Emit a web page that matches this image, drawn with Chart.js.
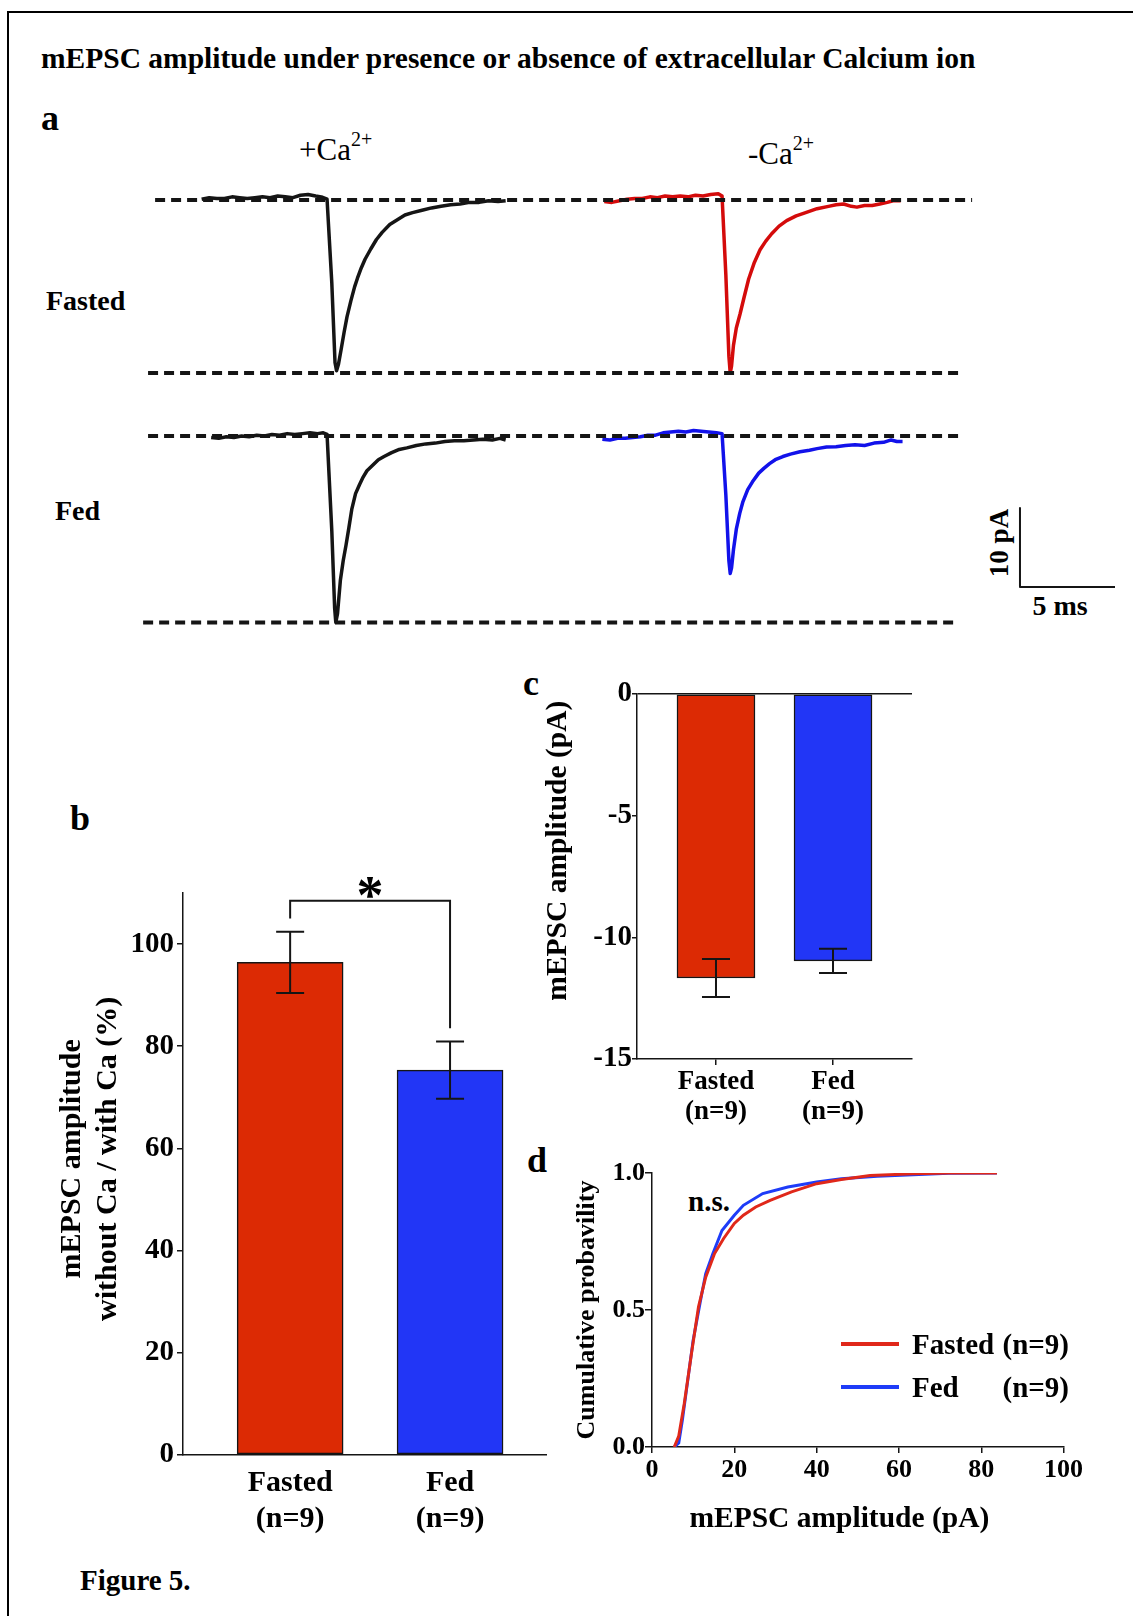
<!DOCTYPE html>
<html>
<head>
<meta charset="utf-8">
<script src="https://cdn.jsdelivr.net/npm/chart.js"></script>
<style>
    body { margin: 0; background: #fff; }
    #page { position: relative; width: 1133px; height: 1616px; overflow: hidden; font-family: 'Liberation Serif', 'Times New Roman', serif; color: #000; }
    #frame { position: absolute; left: 7px; top: 11px; width: 1140px; height: 1620px; border-left: 2px solid #000; border-top: 2px solid #000; }
    .t { position: absolute; white-space: nowrap; line-height: 1; font-weight: bold; }
    canvas { position: absolute; }
</style>
</head>
<body>
<div id="page">
    <div id="frame"></div>

    <div class="t" style="left:41px; top:44px; font-size:29.5px;">mEPSC amplitude under presence or absence of extracellular Calcium ion</div>
    <div class="t" style="left:41px; top:100px; font-size:36px;">a</div>
    <div class="t" style="left:299px; top:129px; font-size:31px; font-weight:normal;">+Ca<sup style="font-size:20px; vertical-align:14px;">2+</sup></div>
    <div class="t" style="left:748px; top:133px; font-size:31px; font-weight:normal;">-Ca<sup style="font-size:20px; vertical-align:14px;">2+</sup></div>
    <div class="t" style="left:46px; top:287px; font-size:28px;">Fasted</div>
    <div class="t" style="left:55px; top:497px; font-size:28px;">Fed</div>
    <div class="t" style="left:999px; top:543px; font-size:27px; transform:translate(-50%,-50%) rotate(-90deg);">10 pA</div>
    <div class="t" style="left:1020px; top:592px; width:80px; text-align:center; font-size:28px;">5 ms</div>

    <div class="t" style="left:70px; top:800px; font-size:36px;">b</div>
    <div class="t" style="left:523px; top:665px; font-size:36px;">c</div>
    <div class="t" style="left:527px; top:1142px; font-size:36px;">d</div>
    <div class="t" style="left:688px; top:1187px; font-size:29px;">n.s.</div>
    <div class="t" style="left:80px; top:1566px; font-size:29px;">Figure 5.</div>

    <canvas id="traceChart" width="1030" height="480" style="left:100px; top:170px;"></canvas>
    <canvas id="ratioChart" width="540" height="680" style="left:30px; top:860px;"></canvas>
    <canvas id="ampChart" width="440" height="480" style="left:500px; top:650px;"></canvas>
    <canvas id="cdfChart" width="590" height="400" style="left:520px; top:1140px;"></canvas>
</div>

<script>
// ---- panel a : example mEPSC traces (time from event onset in ms, current from baseline in pA)
var fastedCaT = [-6.6, -6.2, -5.8, -5.4, -5.0, -4.6, -4.2, -3.8, -3.4, -3.0, -2.6, -2.2, -1.8, -1.4, -1.0, -0.6, -0.3, 0, 0.25, 0.42, 0.5, 0.6, 0.75, 0.9, 1.05, 1.25, 1.45, 1.6, 1.8, 2.0, 2.3, 2.6, 2.9, 3.3, 3.7, 4.1, 4.5, 5.0, 5.5, 6.0, 6.5, 7.0, 7.5, 8.0, 8.5, 9.0, 9.4];
var fastedCaI = [0.1, 0.3, 0.2, 0.2, 0.4, 0.3, 0.2, 0.3, 0.4, 0.3, 0.5, 0.4, 0.3, 0.6, 0.7, 0.5, 0.4, 0.1, -10.5, -20.6, -21.6, -20.8, -18.8, -16.7, -14.8, -12.8, -11.0, -9.9, -8.6, -7.5, -6.2, -5.0, -4.1, -3.1, -2.5, -1.9, -1.6, -1.3, -1.0, -0.8, -0.6, -0.5, -0.3, -0.3, -0.1, -0.2, -0.1];

var fedCaT = [-6.1, -5.7, -5.3, -4.9, -4.5, -4.1, -3.7, -3.3, -2.9, -2.5, -2.1, -1.7, -1.3, -0.9, -0.5, -0.2, 0, 0.25, 0.4, 0.46, 0.55, 0.7, 0.85, 1.0, 1.15, 1.3, 1.5, 1.7, 1.9, 2.1, 2.4, 2.7, 3.0, 3.4, 3.8, 4.2, 4.7, 5.2, 5.7, 6.2, 6.7, 7.2, 7.7, 8.2, 8.7, 9.1, 9.4];
var fedCaI = [-0.2, -0.3, -0.1, -0.2, 0.0, -0.1, 0.1, 0.0, 0.2, 0.1, 0.3, 0.2, 0.3, 0.4, 0.3, 0.4, 0.2, -12.0, -21.8, -23.6, -22.5, -18.3, -15.8, -13.8, -11.6, -9.3, -7.3, -6.2, -5.2, -4.4, -3.7, -3.0, -2.6, -2.1, -1.7, -1.5, -1.2, -1.0, -0.9, -0.7, -0.6, -0.6, -0.5, -0.4, -0.5, -0.3, -0.5];

var fastedNoCaT = [-6.2, -5.8, -5.4, -5.0, -4.6, -4.2, -3.8, -3.4, -3.0, -2.6, -2.2, -1.8, -1.4, -1.0, -0.6, -0.2, 0, 0.2, 0.36, 0.43, 0.5, 0.6, 0.75, 0.95, 1.15, 1.4, 1.7, 2.0, 2.3, 2.6, 3.0, 3.4, 3.9, 4.4, 5.0, 5.6, 6.0, 6.4, 6.8, 7.1, 7.5, 7.9, 8.3, 8.7, 9.0, 9.4];
var fastedNoCaI = [-0.2, -0.3, -0.1, 0.1, 0.2, 0.2, 0.4, 0.3, 0.5, 0.4, 0.5, 0.4, 0.6, 0.5, 0.7, 0.8, 0.5, -9.5, -19.8, -21.9, -21.0, -18.4, -16.2, -14.4, -12.4, -10.0, -7.9, -6.3, -5.2, -4.3, -3.3, -2.6, -2.0, -1.6, -1.1, -0.8, -0.6, -0.5, -0.8, -0.9, -0.7, -0.7, -0.5, -0.3, -0.1, -0.1];

var fedNoCaT = [-6.3, -5.9, -5.5, -5.1, -4.7, -4.3, -3.9, -3.5, -3.1, -2.7, -2.3, -1.9, -1.5, -1.1, -0.7, -0.3, 0, 0.2, 0.36, 0.43, 0.5, 0.6, 0.75, 0.93, 1.1, 1.35, 1.6, 1.93, 2.2, 2.5, 2.8, 3.2, 3.6, 4.1, 4.6, 5.0, 5.5, 6.0, 6.5, 7.0, 7.5, 8.0, 8.5, 8.9, 9.2, 9.5];
var fedNoCaI = [-0.4, -0.5, -0.3, -0.3, -0.2, -0.1, 0.1, 0.1, 0.4, 0.5, 0.6, 0.5, 0.7, 0.6, 0.5, 0.4, 0.3, -7.5, -15.8, -17.4, -16.7, -14.4, -11.8, -9.8, -8.3, -6.8, -5.8, -4.7, -4.1, -3.5, -3.0, -2.6, -2.3, -2.0, -1.8, -1.6, -1.4, -1.35, -1.2, -1.1, -1.2, -0.9, -0.8, -0.5, -0.7, -0.7];

// dashed guide lines: baseline and peak level of each row (pA), extents in ms from the +Ca onset
var rowGuideLevels = [[0, -21.9], [0, -23.6]];
var guideFrom = [[-9.05, -9.42], [-9.42, -9.68]];
var guideTo = [[33.95, 33.5], [33.5, 33.26]];
var scaleBarPA = 10;
var scaleBarMS = 5;

// ---- panel b : ratio without Ca / with Ca (%)
var groups = ['Fasted', 'Fed'];
var groupN = ['(n=9)', '(n=9)'];
var ratioMean = [96.4, 75.3];
var ratioSem = [6.0, 5.6];
var ratioTicks = [0, 20, 40, 60, 80, 100];
var bracketY = [105.0, 108.5, 108.5, 83.5];

// ---- panel c : mEPSC amplitude (pA)
var ampMean = [-11.67, -10.97];
var ampSem = [0.78, 0.5];
var ampTicks = [0, -5, -10, -15];

// ---- panel d : cumulative probability of mEPSC amplitude
var cdfFastedX = [5.4, 6.5, 7.85, 9.6, 11.3, 13.05, 15.2, 17.4, 20.0, 22.2, 25.2, 28.7, 33.9, 40.0, 46.0, 53.0, 63.4, 72.1, 83.8];
var cdfFastedY = [0, 0.04, 0.16, 0.342, 0.512, 0.62, 0.706, 0.761, 0.816, 0.846, 0.876, 0.9, 0.931, 0.961, 0.976, 0.991, 0.997, 1.0, 1.0];
var cdfFedX = [5.4, 6.5, 7.4, 8.7, 10.0, 11.8, 13.05, 14.8, 17.0, 20.0, 22.2, 26.9, 33.0, 40.0, 46.0, 54.7, 63.4, 72.1, 83.8];
var cdfFedY = [0, 0.015, 0.1, 0.245, 0.39, 0.536, 0.633, 0.706, 0.79, 0.846, 0.882, 0.925, 0.949, 0.967, 0.979, 0.988, 0.994, 0.999, 1.0];
var cdfXTicks = [0, 20, 40, 60, 80, 100];
var cdfYTicks = [0, 0.5, 1.0];

var RED_BAR = '#DC2A04';
var BLUE_BAR = '#2236F6';
var RED_TRACE = '#D40B0B';
var BLUE_TRACE = '#1212EA';
var INK = '#151515';
var NB = '\u00a0';

Chart.defaults.font.family = "'Liberation Serif', 'Times New Roman', serif";
Chart.defaults.color = '#000';
Chart.defaults.animation = false;
Chart.defaults.plugins.legend.display = false;
Chart.defaults.plugins.tooltip.enabled = false;

function boldFont(size, lh) {
    return { size: size, weight: 'bold', lineHeight: lh || 1.2 };
}

function toPoints(xs, ys, dx, dy) {
    return xs.map(function (x, i) {
        return { x: x + (dx || 0), y: ys[i] + (dy || 0) };
    });
}

function setTicks(values) {
    return function (scale) {
        scale.ticks = values.map(function (v) { return { value: v }; });
    };
}

// ---------------- panel a ----------------
var PX_PER_MS = 19, PX_PER_PA = 7.9;
var onsetPlus = 11.95, onsetMinus = 32.74;   // ms on the drawing axis
var rowBase = [-3.8, -33.67];                // pA on the drawing axis
var barCorner = { x: 48.42, y: -52.78 };

var traceSets = [];
for (var r = 0; r < 2; r++) {
    for (var k = 0; k < 2; k++) {
        var lvl = rowBase[r] + rowGuideLevels[r][k];
        traceSets.push({
            data: [{ x: onsetPlus + guideFrom[r][k], y: lvl }, { x: onsetPlus + guideTo[r][k], y: lvl }],
            borderColor: INK, borderWidth: 4, borderDash: [10, 6]
        });
    }
}
traceSets.push({ data: toPoints(fastedCaT, fastedCaI, onsetPlus, rowBase[0]), borderColor: INK, borderWidth: 3.5 });
traceSets.push({ data: toPoints(fedCaT, fedCaI, onsetPlus, rowBase[1]), borderColor: INK, borderWidth: 3.5 });
traceSets.push({ data: toPoints(fastedNoCaT, fastedNoCaI, onsetMinus, rowBase[0]), borderColor: RED_TRACE, borderWidth: 3.5 });
traceSets.push({ data: toPoints(fedNoCaT, fedNoCaI, onsetMinus, rowBase[1]), borderColor: BLUE_TRACE, borderWidth: 3.5 });
traceSets.push({
    data: [{ x: barCorner.x, y: barCorner.y + scaleBarPA }, { x: barCorner.x, y: barCorner.y }, { x: barCorner.x + scaleBarMS, y: barCorner.y }],
    borderColor: INK, borderWidth: 2
});

new Chart(document.getElementById('traceChart'), {
    type: 'line',
    data: { datasets: traceSets },
    options: {
        responsive: false,
        layout: { padding: 0 },
        elements: { point: { radius: 0 }, line: { tension: 0, borderJoinStyle: 'round', borderCapStyle: 'butt' } },
        scales: {
            x: { type: 'linear', display: false, min: 0, max: 1030 / PX_PER_MS },
            y: { type: 'linear', display: false, min: -480 / PX_PER_PA, max: 0 }
        }
    }
});

// error bars on top of the bars (+ optional significance mark)
var errorBars = {
    id: 'errorBars',
    afterDatasetsDraw: function (chart, args, opts) {
        var ctx = chart.ctx, ys = chart.scales.y;
        var meta = chart.getDatasetMeta(0);
        ctx.save();
        ctx.strokeStyle = INK;
        ctx.lineWidth = 2;
        opts.mean.forEach(function (m, i) {
            var x = meta.data[i].x;
            var hi = ys.getPixelForValue(m + opts.sem[i]);
            var lo = ys.getPixelForValue(m - opts.sem[i]);
            ctx.beginPath();
            ctx.moveTo(x, hi); ctx.lineTo(x, lo);
            ctx.moveTo(x - opts.cap / 2, hi); ctx.lineTo(x + opts.cap / 2, hi);
            ctx.moveTo(x - opts.cap / 2, lo); ctx.lineTo(x + opts.cap / 2, lo);
            ctx.stroke();
        });
        if (opts.mark) {
            ctx.fillStyle = '#000';
            ctx.font = 'bold 54px "Liberation Serif"';
            ctx.textAlign = 'center';
            ctx.textBaseline = 'alphabetic';
            ctx.fillText(opts.mark.text, chart.scales.x.getPixelForValue(opts.mark.x), ys.getPixelForValue(opts.mark.y));
        }
        ctx.restore();
    }
};

// ---------------- panel b ----------------
new Chart(document.getElementById('ratioChart'), {
    type: 'bar',
    data: {
        datasets: [{
            type: 'bar',
            data: toPoints([1, 2], ratioMean),
            backgroundColor: [RED_BAR, BLUE_BAR],
            borderColor: INK, borderWidth: 1.5, borderSkipped: false,
            barThickness: 106
        }, {
            type: 'line',
            data: toPoints([1, 1, 2, 2], bracketY),
            borderColor: INK, borderWidth: 2, pointRadius: 0, fill: false
        }]
    },
    plugins: [errorBars],
    options: {
        responsive: false,
        layout: { padding: { top: 33, right: 24, left: 0, bottom: 0 } },
        plugins: { errorBars: { mean: ratioMean, sem: ratioSem, cap: 28, mark: { text: '*', x: 1.5, y: 106.0 } } },
        scales: {
            x: {
                type: 'linear', offset: false, min: 0.33, max: 2.6,
                afterBuildTicks: setTicks([1, 2]),
                afterFit: function (s) { s.height = 85.4; },
                grid: { display: false, offset: false },
                border: { display: true, color: INK, width: 1.5 },
                ticks: {
                    font: boldFont(30), padding: 3, maxRotation: 0, autoSkip: false,
                    callback: function (v) { return [groups[v - 1], groupN[v - 1]]; }
                }
            },
            y: {
                min: 0, max: 110,
                afterBuildTicks: setTicks(ratioTicks),
                afterFit: function (s) { s.width = 153; },
                grid: { drawOnChartArea: false, tickLength: 6, color: INK, lineWidth: 1.5 },
                border: { display: true, color: INK, width: 1.5 },
                ticks: { font: boldFont(29), padding: 3 },
                title: {
                    display: true,
                    text: [NB.repeat(4) + 'mEPSC amplitude', NB.repeat(4) + 'without Ca / with Ca (%)'],
                    font: boldFont(30, 1.2),
                    padding: { top: 24, bottom: 0 }
                }
            }
        }
    }
});

// ---------------- panel c ----------------
new Chart(document.getElementById('ampChart'), {
    type: 'bar',
    data: {
        datasets: [{
            data: toPoints([1, 2], ampMean),
            backgroundColor: [RED_BAR, BLUE_BAR],
            borderColor: INK, borderWidth: 1.5, borderSkipped: false,
            barThickness: 78
        }]
    },
    plugins: [errorBars],
    options: {
        responsive: false,
        layout: { padding: { top: 44, right: 28, left: 0, bottom: 0 } },
        plugins: { errorBars: { mean: ampMean, sem: ampSem, cap: 28 } },
        scales: {
            x: {
                type: 'linear', offset: false, min: 0.325, max: 2.675,
                afterBuildTicks: setTicks([1, 2]),
                afterFit: function (s) { s.height = 71; },
                grid: { drawOnChartArea: false, offset: false, tickLength: 6, color: INK, lineWidth: 1.5 },
                border: { display: true, color: INK, width: 1.5 },
                ticks: {
                    font: boldFont(27, 1.12), padding: 2, maxRotation: 0, autoSkip: false,
                    callback: function (v) { return [groups[v - 1], groupN[v - 1]]; }
                }
            },
            y: {
                min: -15, max: 0,
                afterBuildTicks: setTicks(ampTicks),
                afterFit: function (s) { s.width = 137; },
                grid: {
                    drawOnChartArea: true, tickLength: 5, lineWidth: 1.5, tickColor: INK,
                    color: function (c) { return c.tick && c.tick.value === 0 ? INK : 'rgba(0,0,0,0)'; }
                },
                border: { display: true, color: INK, width: 1.5 },
                ticks: { font: boldFont(29), padding: 0 },
                title: {
                    display: true,
                    text: NB.repeat(7) + 'mEPSC amplitude (pA)',
                    font: boldFont(29.5),
                    padding: { top: 41, bottom: 0 }
                }
            }
        }
    }
});

// ---------------- panel d ----------------
var cdfLegend = {
    id: 'cdfLegend',
    afterDraw: function (chart, args, opts) {
        var ctx = chart.ctx, area = chart.chartArea;
        ctx.save();
        ctx.font = 'bold 29px "Liberation Serif"';
        ctx.fillStyle = '#000';
        ctx.textBaseline = 'alphabetic';
        chart.data.datasets.forEach(function (ds, i) {
            var x0 = area.left + opts.left, y = area.top + opts.top + i * opts.gap;
            ctx.strokeStyle = ds.borderColor;
            ctx.lineWidth = 4;
            ctx.beginPath();
            ctx.moveTo(x0, y); ctx.lineTo(x0 + 58, y);
            ctx.stroke();
            ctx.textAlign = 'left';
            ctx.fillText(ds.label, x0 + 71, y + 10);
            ctx.textAlign = 'right';
            ctx.fillText(opts.n[i], x0 + 228, y + 10);
        });
        ctx.restore();
    }
};

new Chart(document.getElementById('cdfChart'), {
    type: 'line',
    data: {
        datasets: [{
            label: groups[0],
            data: toPoints(cdfFastedX, cdfFastedY),
            borderColor: '#E0281A', borderWidth: 3, pointRadius: 0, tension: 0
        }, {
            label: groups[1],
            data: toPoints(cdfFedX, cdfFedY),
            borderColor: '#1E3CF8', borderWidth: 3, pointRadius: 0, tension: 0
        }]
    },
    plugins: [cdfLegend],
    options: {
        responsive: false,
        layout: { padding: { top: 33, right: 46.4, left: 0, bottom: 0 } },
        plugins: { cdfLegend: { left: 189, top: 171, gap: 43, n: groupN } },
        scales: {
            x: {
                type: 'linear', min: 0, max: 100,
                afterBuildTicks: setTicks(cdfXTicks),
                afterFit: function (s) { s.height = 93; },
                grid: { drawOnChartArea: false, tickLength: 6, color: INK, lineWidth: 1.5 },
                border: { display: true, color: INK, width: 1.5 },
                ticks: { font: boldFont(26), padding: 2, maxRotation: 0 },
                title: { display: true, text: 'mEPSC amplitude (pA)' + NB.repeat(5), font: boldFont(29.5), padding: { top: 0, bottom: 3 } }
            },
            y: {
                min: 0, max: 1,
                afterBuildTicks: setTicks(cdfYTicks),
                afterFit: function (s) { s.width = 132; },
                grid: { drawOnChartArea: false, tickLength: 7, color: INK, lineWidth: 1.5 },
                border: { display: true, color: INK, width: 1.5 },
                ticks: { font: boldFont(26), padding: 0, callback: function (v) { return v.toFixed(1); } },
                title: { display: true, text: 'Cumulative probavility', font: boldFont(26), padding: { top: 52, bottom: 0 } }
            }
        }
    }
});
</script>
</body>
</html>
